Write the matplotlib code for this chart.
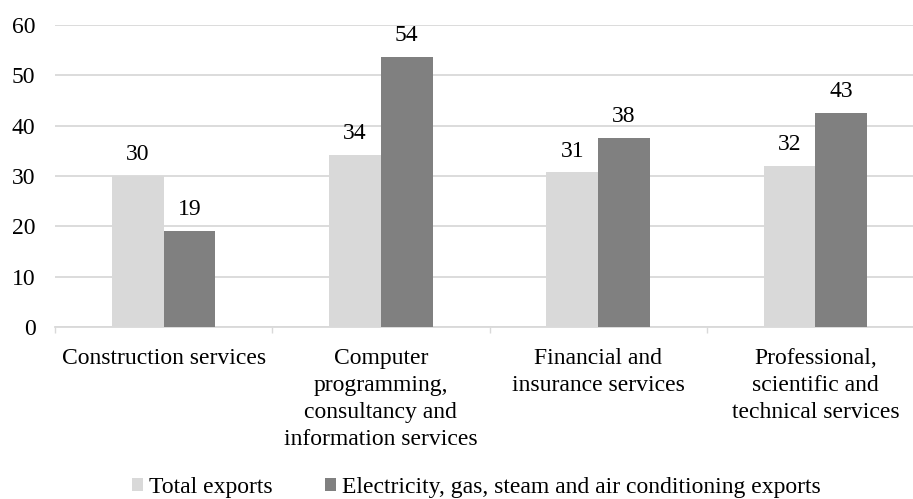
import matplotlib
matplotlib.use("Agg")
import matplotlib.pyplot as plt
import numpy as np

categories = ["Construction services",
              "Computer\nprogramming,\nconsultancy and\ninformation services",
              "Financial and\ninsurance services",
              "Professional,\nscientific and\ntechnical services"]
series_names = ["Total exports", "Electricity, gas, steam and air conditioning exports"]
total_exports = [30.0, 34.2, 30.7, 31.9]
electricity_exports = [19.1, 53.6, 37.6, 42.6]
yticks = [0, 10, 20, 30, 40, 50, 60]

plt.rcParams['font.family'] = ['Liberation Serif', 'DejaVu Serif']
FS = 17

fig = plt.figure(figsize=(9.13, 4.99), dpi=100)
ax = fig.add_axes([55/913, 1-327/499, (924-55)/913, (327-25)/499])

x = np.arange(len(categories))
w = 0.238
c_light = "#d9d9d9"
c_dark = "#808080"
b1 = ax.bar(x - w/2, total_exports, w, color=c_light, label=series_names[0], zorder=3)
b2 = ax.bar(x + w/2, electricity_exports, w, color=c_dark, label=series_names[1], zorder=3)

for bars, vals in ((b1, total_exports), (b2, electricity_exports)):
    for r, v in zip(bars, vals):
        ax.annotate(f"{round(v):d}", (r.get_x() + r.get_width()/2, r.get_height()),
                    xytext=(0, 11.5), textcoords="offset points",
                    ha="center", va="baseline", fontsize=FS, color="black")

ax.set_xlim(-0.5, len(categories) - 0.5)
ax.set_ylim(0, 60)
ax.set_yticks(yticks)
ax.set_yticklabels([str(t) for t in yticks], fontsize=FS)
ax.tick_params(axis='y', length=0, pad=14)
ax.set_xticks(x)
ax.set_xticklabels(categories, fontsize=FS, linespacing=1.38, va="top")
ax.tick_params(axis='x', which='major', length=0, pad=15)
ax.set_xticks(np.arange(-0.5, len(categories)), minor=True)
ax.tick_params(axis='x', which='minor', length=4.5, width=1, color=c_light)

ax.yaxis.grid(True, color=c_light, linewidth=1.3, zorder=0)
ax.set_axisbelow(True)
for s in ("top", "right", "left"):
    ax.spines[s].set_visible(False)
ax.spines["bottom"].set_color(c_light)
ax.spines["bottom"].set_linewidth(1.3)

fig.legend(handles=[b1, b2], labels=series_names, loc="center",
           bbox_to_anchor=(476.5/913, 1-487/499), ncol=2, frameon=False,
           fontsize=FS, handlelength=0.47, handleheight=0.47,
           handletextpad=0.25, columnspacing=2.2, borderpad=0)

fig.savefig("out.png", dpi=100)
